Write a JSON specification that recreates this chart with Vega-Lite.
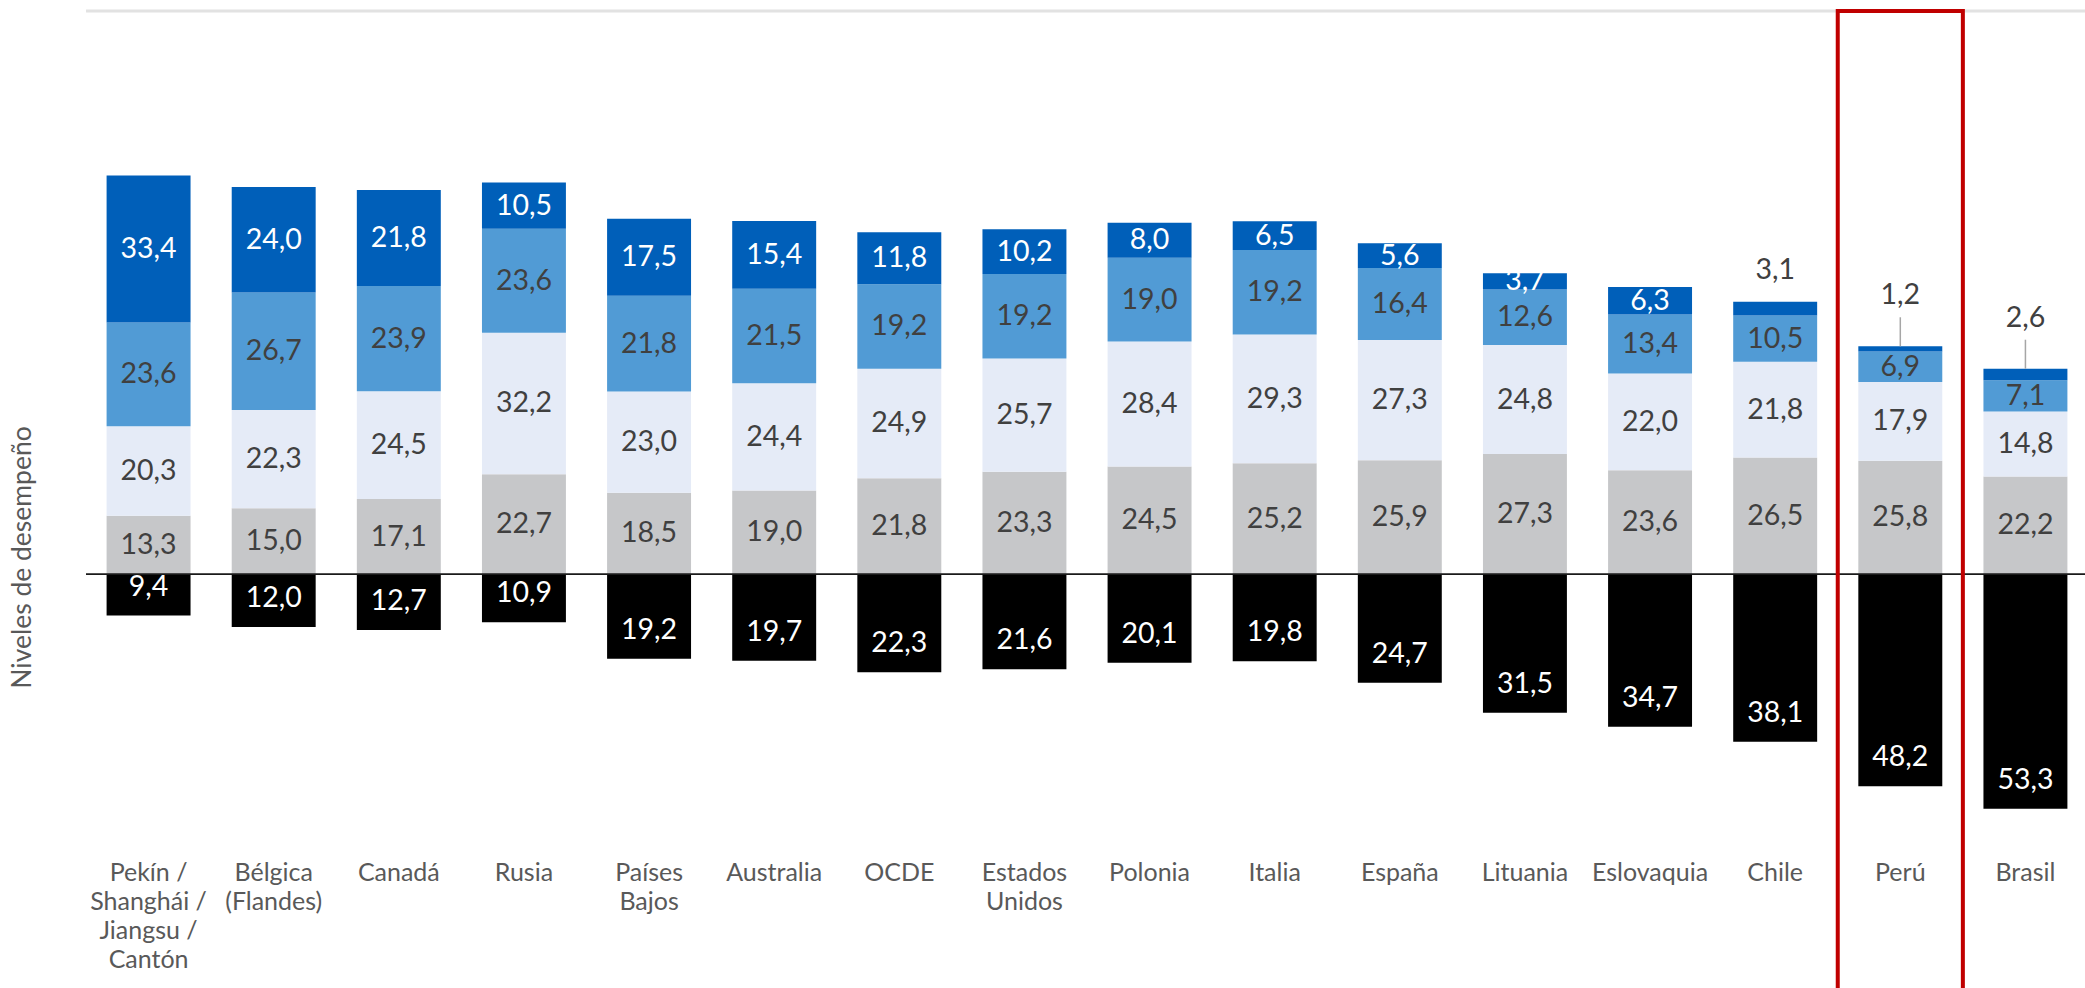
{
  "$schema": "https://vega.github.io/schema/vega-lite/v6.json",
  "width": 2002,
  "height": 840.4,
  "padding": {"left": 86, "top": 11, "right": 0, "bottom": 137},
  "autosize": {"type": "none"},
  "background": "white",
  "config": {"view": {"stroke": null}, "font": "Lato", "text": {"font": "Lato"}},
  "data": {"values": [
    {"pais": "Pekín / Shanghái / Jiangsu / Cantón", "nivel": "Debajo del nivel 1", "valor": -9.4},
    {"pais": "Pekín / Shanghái / Jiangsu / Cantón", "nivel": "Nivel 1", "valor": 13.3},
    {"pais": "Pekín / Shanghái / Jiangsu / Cantón", "nivel": "Nivel 2", "valor": 20.3},
    {"pais": "Pekín / Shanghái / Jiangsu / Cantón", "nivel": "Nivel 3", "valor": 23.6},
    {"pais": "Pekín / Shanghái / Jiangsu / Cantón", "nivel": "Nivel 4", "valor": 33.4},
    {"pais": "Bélgica (Flandes)", "nivel": "Debajo del nivel 1", "valor": -12.0},
    {"pais": "Bélgica (Flandes)", "nivel": "Nivel 1", "valor": 15.0},
    {"pais": "Bélgica (Flandes)", "nivel": "Nivel 2", "valor": 22.3},
    {"pais": "Bélgica (Flandes)", "nivel": "Nivel 3", "valor": 26.7},
    {"pais": "Bélgica (Flandes)", "nivel": "Nivel 4", "valor": 24.0},
    {"pais": "Canadá", "nivel": "Debajo del nivel 1", "valor": -12.7},
    {"pais": "Canadá", "nivel": "Nivel 1", "valor": 17.1},
    {"pais": "Canadá", "nivel": "Nivel 2", "valor": 24.5},
    {"pais": "Canadá", "nivel": "Nivel 3", "valor": 23.9},
    {"pais": "Canadá", "nivel": "Nivel 4", "valor": 21.8},
    {"pais": "Rusia", "nivel": "Debajo del nivel 1", "valor": -10.9},
    {"pais": "Rusia", "nivel": "Nivel 1", "valor": 22.7},
    {"pais": "Rusia", "nivel": "Nivel 2", "valor": 32.2},
    {"pais": "Rusia", "nivel": "Nivel 3", "valor": 23.6},
    {"pais": "Rusia", "nivel": "Nivel 4", "valor": 10.5},
    {"pais": "Países Bajos", "nivel": "Debajo del nivel 1", "valor": -19.2},
    {"pais": "Países Bajos", "nivel": "Nivel 1", "valor": 18.5},
    {"pais": "Países Bajos", "nivel": "Nivel 2", "valor": 23.0},
    {"pais": "Países Bajos", "nivel": "Nivel 3", "valor": 21.8},
    {"pais": "Países Bajos", "nivel": "Nivel 4", "valor": 17.5},
    {"pais": "Australia", "nivel": "Debajo del nivel 1", "valor": -19.7},
    {"pais": "Australia", "nivel": "Nivel 1", "valor": 19.0},
    {"pais": "Australia", "nivel": "Nivel 2", "valor": 24.4},
    {"pais": "Australia", "nivel": "Nivel 3", "valor": 21.5},
    {"pais": "Australia", "nivel": "Nivel 4", "valor": 15.4},
    {"pais": "OCDE", "nivel": "Debajo del nivel 1", "valor": -22.3},
    {"pais": "OCDE", "nivel": "Nivel 1", "valor": 21.8},
    {"pais": "OCDE", "nivel": "Nivel 2", "valor": 24.9},
    {"pais": "OCDE", "nivel": "Nivel 3", "valor": 19.2},
    {"pais": "OCDE", "nivel": "Nivel 4", "valor": 11.8},
    {"pais": "Estados Unidos", "nivel": "Debajo del nivel 1", "valor": -21.6},
    {"pais": "Estados Unidos", "nivel": "Nivel 1", "valor": 23.3},
    {"pais": "Estados Unidos", "nivel": "Nivel 2", "valor": 25.7},
    {"pais": "Estados Unidos", "nivel": "Nivel 3", "valor": 19.2},
    {"pais": "Estados Unidos", "nivel": "Nivel 4", "valor": 10.2},
    {"pais": "Polonia", "nivel": "Debajo del nivel 1", "valor": -20.1},
    {"pais": "Polonia", "nivel": "Nivel 1", "valor": 24.5},
    {"pais": "Polonia", "nivel": "Nivel 2", "valor": 28.4},
    {"pais": "Polonia", "nivel": "Nivel 3", "valor": 19.0},
    {"pais": "Polonia", "nivel": "Nivel 4", "valor": 8.0},
    {"pais": "Italia", "nivel": "Debajo del nivel 1", "valor": -19.8},
    {"pais": "Italia", "nivel": "Nivel 1", "valor": 25.2},
    {"pais": "Italia", "nivel": "Nivel 2", "valor": 29.3},
    {"pais": "Italia", "nivel": "Nivel 3", "valor": 19.2},
    {"pais": "Italia", "nivel": "Nivel 4", "valor": 6.5},
    {"pais": "España", "nivel": "Debajo del nivel 1", "valor": -24.7},
    {"pais": "España", "nivel": "Nivel 1", "valor": 25.9},
    {"pais": "España", "nivel": "Nivel 2", "valor": 27.3},
    {"pais": "España", "nivel": "Nivel 3", "valor": 16.4},
    {"pais": "España", "nivel": "Nivel 4", "valor": 5.6},
    {"pais": "Lituania", "nivel": "Debajo del nivel 1", "valor": -31.5},
    {"pais": "Lituania", "nivel": "Nivel 1", "valor": 27.3},
    {"pais": "Lituania", "nivel": "Nivel 2", "valor": 24.8},
    {"pais": "Lituania", "nivel": "Nivel 3", "valor": 12.6},
    {"pais": "Lituania", "nivel": "Nivel 4", "valor": 3.7},
    {"pais": "Eslovaquia", "nivel": "Debajo del nivel 1", "valor": -34.7},
    {"pais": "Eslovaquia", "nivel": "Nivel 1", "valor": 23.6},
    {"pais": "Eslovaquia", "nivel": "Nivel 2", "valor": 22.0},
    {"pais": "Eslovaquia", "nivel": "Nivel 3", "valor": 13.4},
    {"pais": "Eslovaquia", "nivel": "Nivel 4", "valor": 6.3},
    {"pais": "Chile", "nivel": "Debajo del nivel 1", "valor": -38.1},
    {"pais": "Chile", "nivel": "Nivel 1", "valor": 26.5},
    {"pais": "Chile", "nivel": "Nivel 2", "valor": 21.8},
    {"pais": "Chile", "nivel": "Nivel 3", "valor": 10.5},
    {"pais": "Chile", "nivel": "Nivel 4", "valor": 3.1},
    {"pais": "Perú", "nivel": "Debajo del nivel 1", "valor": -48.2},
    {"pais": "Perú", "nivel": "Nivel 1", "valor": 25.8},
    {"pais": "Perú", "nivel": "Nivel 2", "valor": 17.9},
    {"pais": "Perú", "nivel": "Nivel 3", "valor": 6.9},
    {"pais": "Perú", "nivel": "Nivel 4", "valor": 1.2},
    {"pais": "Brasil", "nivel": "Debajo del nivel 1", "valor": -53.3},
    {"pais": "Brasil", "nivel": "Nivel 1", "valor": 22.2},
    {"pais": "Brasil", "nivel": "Nivel 2", "valor": 14.8},
    {"pais": "Brasil", "nivel": "Nivel 3", "valor": 7.1},
    {"pais": "Brasil", "nivel": "Nivel 4", "valor": 2.6}
  ]},
  "transform": [
    {"calculate": "replace(format(abs(datum.valor), '.1f'), '.', ',')", "as": "etiqueta"}
  ],
  "layer": [
    {
      "transform": [{"filter": "datum.pais == 'OCDE' && datum.nivel == 'Nivel 1'"}],
      "mark": {"type": "rule", "color": "#E2E2E2", "strokeWidth": 3, "x2Offset": -86},
      "encoding": {
        "y": {"datum": 128, "type": "quantitative", "scale": {"domain": [-63, 128], "nice": false, "zero": false}}
      }
    },
    {
      "mark": {"type": "bar", "width": {"band": 0.671}},
      "encoding": {
        "x": {
          "field": "pais", "type": "nominal", "sort": null,
          "scale": {"paddingInner": 0, "paddingOuter": 0},
          "axis": {
            "title": null, "ticks": false, "domain": false, "labelAngle": 0,
            "labelFontSize": 25, "labelColor": "#595959", "labelLineHeight": 29,
            "labelPadding": 9, "labelOverlap": false, "labelBound": false, "labelLimit": 300,
            "labelExpr": "datum.value == 'Pekín / Shanghái / Jiangsu / Cantón' ? ['Pekín /', 'Shanghái /', 'Jiangsu /', 'Cantón'] : datum.value == 'Bélgica (Flandes)' ? ['Bélgica', '(Flandes)'] : datum.value == 'Países Bajos' ? ['Países', 'Bajos'] : datum.value == 'Estados Unidos' ? ['Estados', 'Unidos'] : datum.value"
          }
        },
        "y": {
          "field": "valor", "type": "quantitative", "stack": "zero",
          "scale": {"domain": [-63, 128], "nice": false, "zero": false},
          "axis": {
            "labels": false, "ticks": false, "domain": false, "grid": false,
            "title": "Niveles de desempeño", "titleFontSize": 26.5, "titleColor": "#595959",
            "titleFontWeight": "normal", "titleFont": "Lato", "titleX": -64, "titleY": 546,
            "titleAngle": -90, "titleBaseline": "middle", "titleAlign": "center"
          }
        },
        "color": {
          "field": "nivel", "type": "nominal", "legend": null,
          "scale": {
            "domain": ["Debajo del nivel 1", "Nivel 1", "Nivel 2", "Nivel 3", "Nivel 4"],
            "range": ["#000000", "#C6C7C9", "#E5EBF7", "#519BD5", "#005FB9"]
          }
        },
        "order": {"field": "nivel", "type": "ordinal"}
      }
    },
    {
      "transform": [{"filter": "datum.pais == 'OCDE' && datum.nivel == 'Nivel 1'"}],
      "mark": {"type": "rule", "color": "#1A1A1A", "strokeWidth": 1.8},
      "encoding": {
        "y": {"datum": 0, "type": "quantitative", "scale": {"domain": [-63, 128], "nice": false, "zero": false}}
      }
    },
    {
      "transform": [{"filter": "datum.valor > 0 && !(datum.nivel == 'Nivel 4' && datum.valor < 3.5)"}],
      "mark": {"type": "text", "fontSize": 28.5, "baseline": "middle", "align": "center"},
      "encoding": {
        "x": {"field": "pais", "type": "nominal", "sort": null},
        "y": {"field": "valor", "type": "quantitative", "stack": "zero", "bandPosition": 0.5, "scale": {"domain": [-63, 128], "nice": false, "zero": false}},
        "detail": {"field": "nivel", "type": "nominal"},
        "order": {"field": "nivel", "type": "ordinal"},
        "text": {"field": "etiqueta", "type": "nominal"},
        "color": {"condition": {"test": "datum.nivel == 'Nivel 4'", "value": "#FFFFFF"}, "value": "#404040"}
      }
    },
    {
      "transform": [{"filter": "datum.valor < 0"}],
      "mark": {"type": "text", "fontSize": 28.5, "baseline": "middle", "align": "center", "dy": -29, "color": "#FFFFFF"},
      "encoding": {
        "x": {"field": "pais", "type": "nominal", "sort": null},
        "y": {"field": "valor", "type": "quantitative", "scale": {"domain": [-63, 128], "nice": false, "zero": false}},
        "text": {"field": "etiqueta", "type": "nominal"}
      }
    },
    {
      "transform": [
        {"filter": "datum.valor > 0"},
        {"joinaggregate": [{"op": "sum", "field": "valor", "as": "total"}], "groupby": ["pais"]},
        {"filter": "datum.nivel == 'Nivel 4' && datum.valor < 3.5 && datum.pais == 'Chile'"}
      ],
      "mark": {"type": "text", "fontSize": 28.5, "baseline": "middle", "align": "center", "dy": -32, "color": "#404040"},
      "encoding": {
        "x": {"field": "pais", "type": "nominal", "sort": null},
        "y": {"field": "total", "type": "quantitative", "scale": {"domain": [-63, 128], "nice": false, "zero": false}},
        "text": {"field": "etiqueta", "type": "nominal"}
      }
    },
    {
      "transform": [
        {"filter": "datum.valor > 0"},
        {"joinaggregate": [{"op": "sum", "field": "valor", "as": "total"}], "groupby": ["pais"]},
        {"filter": "datum.nivel == 'Nivel 4' && datum.valor < 3.5 && datum.pais != 'Chile'"}
      ],
      "layer": [
        {
          "mark": {"type": "text", "fontSize": 28.5, "baseline": "middle", "align": "center", "dy": -51, "color": "#404040"},
          "encoding": {
            "x": {"field": "pais", "type": "nominal", "sort": null},
            "y": {"field": "total", "type": "quantitative", "scale": {"domain": [-63, 128], "nice": false, "zero": false}},
            "text": {"field": "etiqueta", "type": "nominal"}
          }
        },
        {
          "mark": {"type": "rule", "color": "#A6A6A6", "strokeWidth": 1.5, "y2Offset": -29},
          "encoding": {
            "x": {"field": "pais", "type": "nominal", "sort": null},
            "y": {"field": "total", "type": "quantitative", "scale": {"domain": [-63, 128], "nice": false, "zero": false}},
            "y2": {"field": "total"}
          }
        }
      ]
    },
    {
      "transform": [{"filter": "datum.pais == 'Perú' && datum.nivel == 'Nivel 1'"}],
      "mark": {"type": "rect", "fillOpacity": 0, "stroke": "#C00000", "strokeWidth": 4},
      "encoding": {
        "x": {"field": "pais", "type": "nominal", "sort": null},
        "y": {"datum": 128, "type": "quantitative", "scale": {"domain": [-63, 128], "nice": false, "zero": false}},
        "y2": {"datum": -140}
      }
    }
  ]
}
